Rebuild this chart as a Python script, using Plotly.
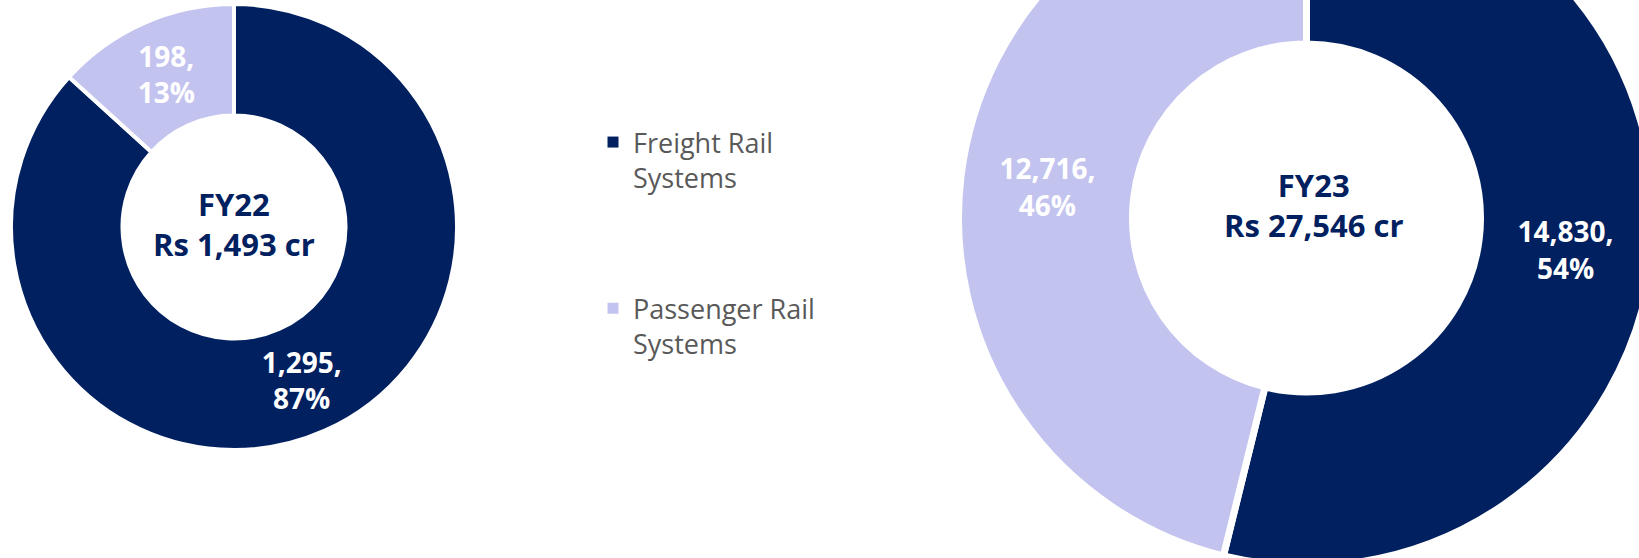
import plotly.graph_objects as go

# Revenue split by segment (Rs crore)
segments = ["Freight Rail<br>Systems", "Passenger Rail<br>Systems"]
years = ["FY22", "FY23"]
fy22_values = [1295, 198]
fy23_values = [14830, 12716]

navy = "#002060"
lavender = "#C3C3EF"
slice_colors = [navy, lavender]
font_family = "Open Sans, Noto Sans, sans-serif"

W, H = 1660, 700
SHIFT = 130  # page offset so the larger ring runs off the top edge


def px_domain(cx, cy, r):
    # pixel centre/radius (figure coords, y down) -> paper domain
    return dict(
        x=[(cx - r) / W, (cx + r) / W],
        y=[1 - (cy + r) / H, 1 - (cy - r) / H],
    )


def donut(values, domain, line_w):
    return go.Pie(
        labels=segments,
        values=values,
        hole=0.5,
        sort=False,
        direction="clockwise",
        rotation=0,
        domain=domain,
        marker=dict(colors=slice_colors, line=dict(color="white", width=line_w)),
        texttemplate="%{value:,},<br>%{percent:.0%}",
        textposition="inside",
        insidetextorientation="horizontal",
        textfont=dict(family=font_family, size=28, color="white", weight="bold"),
        hoverinfo="label+value+percent",
        showlegend=False,
    )


# values, year, domain, separator width, centre-text offsets
pies = [
    (fy22_values, years[0], px_domain(234, 227 + SHIFT, 223), 4, 0, 3),
    (fy23_values, years[1], px_domain(1306.5, 218 + SHIFT, 348), 7, 7, 13),
]

fig = go.Figure()
for values, year, dom, lw, dx, dy in pies:
    fig.add_trace(donut(values, dom, lw))
    total = sum(values)
    fig.add_annotation(
        x=sum(dom["x"]) / 2,
        y=sum(dom["y"]) / 2,
        xref="paper",
        yref="paper",
        xanchor="center",
        yanchor="middle",
        xshift=dx,
        yshift=dy,
        text=f"<b>{year}<br>Rs {total:,} cr</b>",
        showarrow=False,
        font=dict(family=font_family, size=31, color=navy),
    )

# legend entries for the two segments
for name, color in zip(segments, slice_colors):
    fig.add_trace(
        go.Scatter(
            x=[None],
            y=[None],
            mode="markers",
            name=name,
            legendgroup=name,
            marker=dict(symbol="square", size=11, color=color),
            hoverinfo="skip",
        )
    )

fig.update_layout(
    width=W,
    height=H,
    margin=dict(l=0, r=0, t=0, b=0),
    paper_bgcolor="white",
    plot_bgcolor="white",
    font=dict(family=font_family),
    uniformtext=dict(minsize=28, mode="show"),
    xaxis=dict(visible=False),
    yaxis=dict(visible=False),
    showlegend=True,
    legend=dict(
        x=593 / W,
        y=1 - (118 + SHIFT) / H,
        xanchor="left",
        yanchor="top",
        valign="top",
        tracegroupgap=93,
        font=dict(family=font_family, size=27, color="#595959"),
        bgcolor="rgba(0,0,0,0)",
    ),
)

post = (
    "document.documentElement.style.overflow='hidden';"
    "document.body.style.margin='0';"
    "document.body.style.overflow='hidden';"
    "var d=document.getElementById('{plot_id}');"
    "d.style.position='relative';"
    "d.style.top='-" + str(SHIFT) + "px';"
)

fig.write_html("out.html", post_script=post)
